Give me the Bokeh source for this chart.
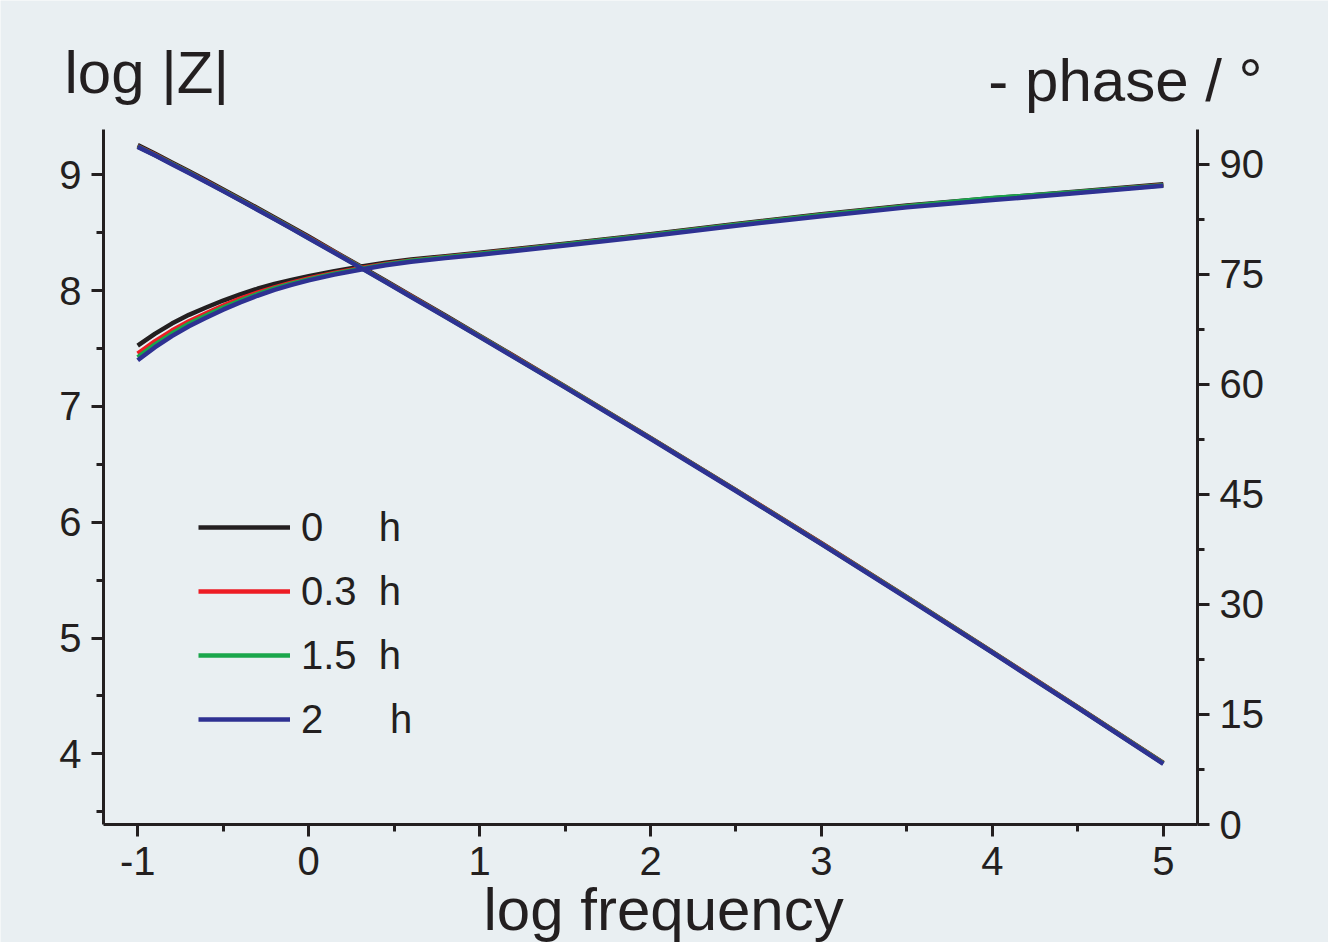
from bokeh.plotting import figure
from bokeh.models import Range1d, LinearAxis, FixedTicker, Label, Legend, LegendItem
from bokeh.embed import file_html
from bokeh.resources import INLINE

# ---------------- data ----------------
log_freq = [-1, -0.9, -0.8, -0.7, -0.6, -0.5, -0.4, -0.3, -0.2, -0.1, 0, 0.15, 0.3, 0.45,
            0.6, 0.8, 1, 1.5, 2, 2.5, 3, 3.5, 4, 4.5, 5]

series_names = ["0\u00a0\u00a0\u00a0\u00a0\u00a0h", "0.3\u00a0\u00a0h", "1.5\u00a0\u00a0h", "2\u00a0\u00a0\u00a0\u00a0\u00a0\u00a0h"]
series_colors = ["#231f20", "#ed1c24", "#1aa64b", "#2e3192"]

logz_0h = [9.255, 9.182, 9.106, 9.030, 8.952, 8.873, 8.793, 8.713, 8.631, 8.549, 8.466, 8.337, 8.211,
           8.084, 7.955, 7.784, 7.611, 7.172, 6.728, 6.277, 5.818, 5.353, 4.881, 4.404, 3.922]
logz_03h = [9.246, 9.173, 9.097, 9.021, 8.943, 8.864, 8.784, 8.704, 8.622, 8.540, 8.457, 8.332, 8.206,
            8.079, 7.950, 7.779, 7.606, 7.170, 6.726, 6.275, 5.816, 5.351, 4.879, 4.402, 3.920]
logz_15h = [9.243, 9.170, 9.094, 9.018, 8.940, 8.861, 8.781, 8.701, 8.619, 8.537, 8.454, 8.329, 8.203,
            8.076, 7.947, 7.776, 7.603, 7.167, 6.723, 6.272, 5.813, 5.348, 4.876, 4.399, 3.917]
logz_2h = [9.240, 9.167, 9.091, 9.015, 8.937, 8.858, 8.778, 8.698, 8.616, 8.534, 8.451, 8.326, 8.200,
           8.073, 7.944, 7.773, 7.600, 7.164, 6.720, 6.269, 5.810, 5.345, 4.873, 4.396, 3.914]

phase_0h = [65.3, 66.9, 68.3, 69.5, 70.5, 71.45, 72.3, 73.05, 73.7, 74.25, 74.75, 75.45, 76.05,
            76.6, 77.05, 77.5, 77.95, 79.2, 80.5, 81.9, 83.2, 84.4, 85.4, 86.3, 87.3]
phase_03h = [64.2, 65.88, 67.35, 68.63, 69.7, 70.75, 71.7, 72.53, 73.25, 73.88, 74.45, 75.2, 75.85,
             76.44, 76.92, 77.39, 77.85, 79.1, 80.4, 81.8, 83.1, 84.3, 85.3, 86.2, 87.2]
phase_15h = [63.7, 65.43, 66.95, 68.28, 69.4, 70.48, 71.45, 72.33, 73.1, 73.75, 74.33, 75.1, 75.77,
             76.38, 76.87, 77.35, 77.83, 79.08, 80.38, 81.78, 83.1, 84.32, 85.42, 86.25, 87.18]
phase_2h = [63.3, 65.05, 66.6, 67.95, 69.1, 70.2, 71.2, 72.1, 72.9, 73.58, 74.2, 74.98, 75.65,
            76.26, 76.75, 77.23, 77.7, 78.95, 80.25, 81.65, 82.95, 84.15, 85.15, 86.1, 87.1]

x_ticks = [-1, 0, 1, 2, 3, 4, 5]
x_minor = [-0.5, 0.5, 1.5, 2.5, 3.5, 4.5]
z_ticks = [4, 5, 6, 7, 8, 9]
z_minor = [3.5, 4.5, 5.5, 6.5, 7.5, 8.5]
ph_ticks = [0, 15, 30, 45, 60, 75, 90]
ph_minor = [7.5, 22.5, 37.5, 52.5, 67.5, 82.5]

logz_all = [logz_0h, logz_03h, logz_15h, logz_2h]
phase_all = [phase_0h, phase_03h, phase_15h, phase_2h]

# ---------------- geometry (page pixels) ----------------
W, H = 1328, 942
AX_L, AX_R, AX_T, AX_B = 103, 1197, 129, 824      # axes box in page pixels
X0, X1 = -1.2, 5.2                                # x bounds of axes box
Z0, Z1 = 3.39, 9.39                               # log|Z| bounds of axes box
P0, P1 = 0.0, 94.77                               # phase bounds of axes box

def ext(lo, hi, a, b, total):
    s = (hi - lo) / (b - a)
    return lo - a * s, hi + (total - b) * s

xr = ext(X0, X1, AX_L, AX_R, W)
zr = ext(Z0, Z1, H - AX_B, H - AX_T, H)
pr = ext(P0, P1, H - AX_B, H - AX_T, H)

BG = "#e9eff2"
INK = "#231f20"
FONT = "Liberation Sans"

p = figure(width=W, height=H, frame_width=W, frame_height=H,
           min_border=0,
           x_range=Range1d(*xr), y_range=Range1d(*zr),
           x_axis_location=None, y_axis_location=None,
           output_backend="svg", toolbar_location=None, tools="")
p.extra_y_ranges = {"phase": Range1d(*pr)}
p.background_fill_color = BG
p.border_fill_color = BG
p.outline_line_color = None
p.grid.visible = False

x_axis = LinearAxis(ticker=FixedTicker(ticks=x_ticks, minor_ticks=x_minor),
                    fixed_location=Z0, bounds=(X0, X1),
                    major_label_overrides={-1: "-1"})
z_axis = LinearAxis(ticker=FixedTicker(ticks=z_ticks, minor_ticks=z_minor),
                    fixed_location=X0, bounds=(Z0, Z1))
ph_axis = LinearAxis(y_range_name="phase", ticker=FixedTicker(ticks=ph_ticks, minor_ticks=ph_minor),
                     fixed_location=X1, bounds=(P0, P1))
p.add_layout(x_axis, "below")
p.add_layout(z_axis, "left")
p.add_layout(ph_axis, "right")

for ax in [x_axis, z_axis, ph_axis]:
    ax.axis_line_color = INK
    ax.axis_line_width = 3
    ax.major_tick_line_color = INK
    ax.major_tick_line_width = 3
    ax.minor_tick_line_color = INK
    ax.minor_tick_line_width = 3
    ax.major_tick_out = 12
    ax.major_tick_in = 0
    ax.minor_tick_out = 7
    ax.minor_tick_in = 0
    ax.major_label_text_font = FONT
    ax.major_label_text_font_size = "40px"
    ax.major_label_text_color = INK
    ax.major_label_standoff = 10

# ---------------- lines ----------------
phase_renderers = []
for name, color, lz, ph in zip(series_names, series_colors, logz_all, phase_all):
    p.line(log_freq, lz, line_color=color, line_width=4.5, line_join="round")
    r = p.line(log_freq, ph, y_range_name="phase", line_color=color, line_width=4.5, line_join="round")
    phase_renderers.append(r)

legend = Legend(items=[LegendItem(label=n, renderers=[r]) for n, r in zip(series_names, phase_renderers)],
                location=(198, 200), orientation="vertical",
                glyph_width=92, glyph_height=46, label_height=46, spacing=18,
                label_standoff=11, padding=0, margin=0,
                border_line_color=None, background_fill_alpha=0,
                label_text_font=FONT, label_text_font_size="40px", label_text_color=INK)
p.add_layout(legend)

# ---------------- axis titles ----------------
p.add_layout(Label(x=64, y=H - 72, x_units="screen", y_units="screen", text="log |Z|",
                   text_font=FONT, text_font_size="60px", text_color=INK,
                   text_align="left", text_baseline="alphabetic"))
p.add_layout(Label(x=1262, y=H - 80, x_units="screen", y_units="screen", text="- phase / °",
                   text_font=FONT, text_font_size="60px", text_color=INK,
                   text_align="right", text_baseline="alphabetic"))
p.add_layout(Label(x=483, y=0, x_units="screen", y_units="screen", text="log frequency",
                   text_font=FONT, text_font_size="60px", text_color=INK,
                   text_align="left", text_baseline="bottom"))

open("out.html", "w").write(file_html(p, INLINE))
